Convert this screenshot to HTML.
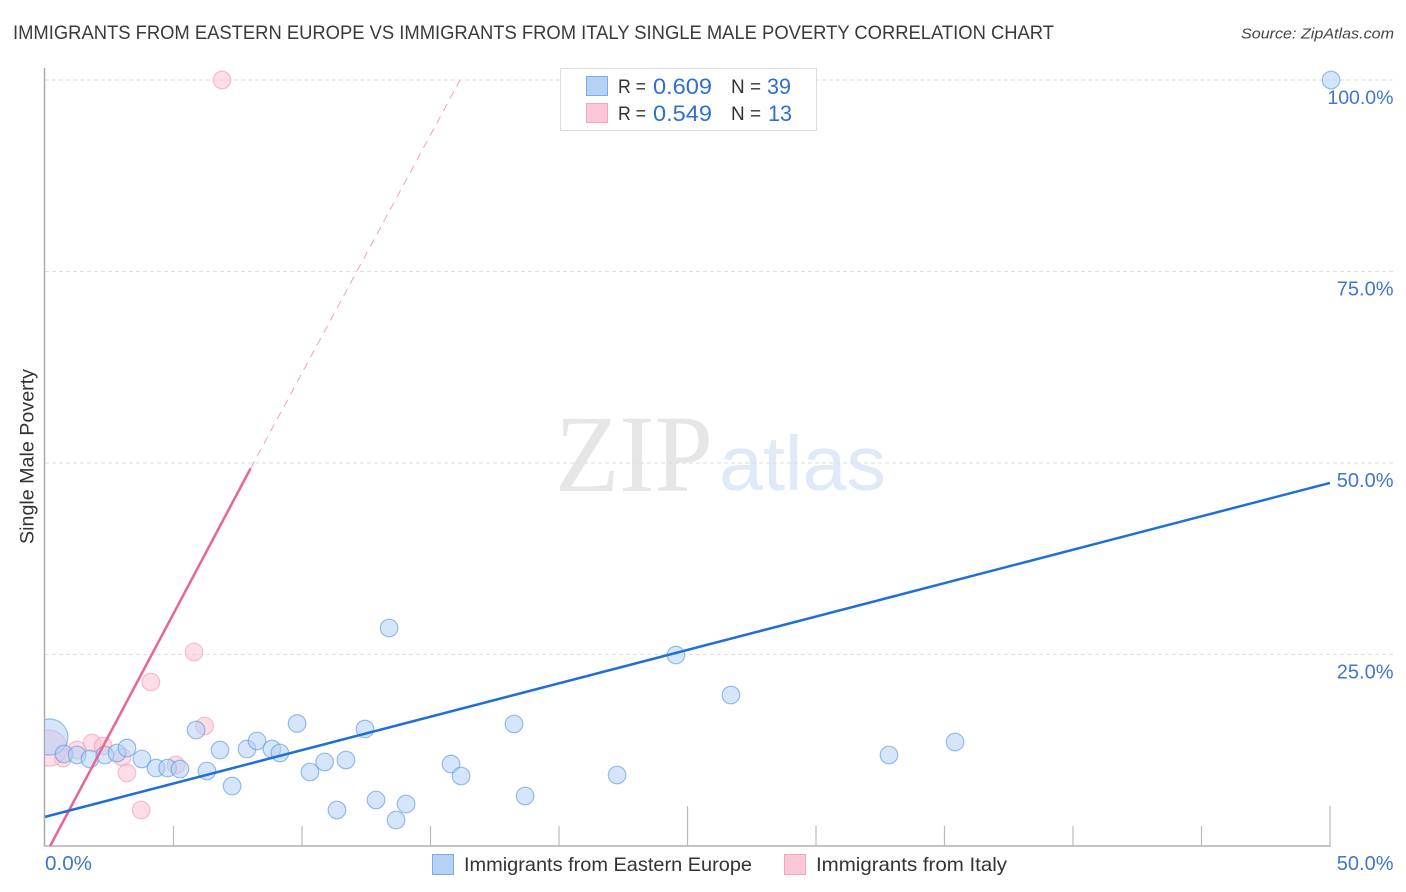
<!DOCTYPE html>
<html lang="en">
<head>
<meta charset="utf-8">
<title>Immigrants from Eastern Europe vs Immigrants from Italy Single Male Poverty Correlation Chart</title>
<style>
html,body{margin:0;padding:0;background:#fff;width:1406px;height:892px;overflow:hidden}
svg{display:block;font-family:"Liberation Sans",sans-serif}
</style>
</head>
<body>
<svg id="chart" width="1406" height="892" viewBox="0 0 1406 892" xmlns="http://www.w3.org/2000/svg">
<defs><clipPath id="plot-clip"><rect x="45" y="60" width="1361" height="786"/></clipPath></defs>
<text x="13" y="39" font-size="19.5" fill="#3a3a3a" textLength="1041" lengthAdjust="spacingAndGlyphs">IMMIGRANTS FROM EASTERN EUROPE VS IMMIGRANTS FROM ITALY SINGLE MALE POVERTY CORRELATION CHART</text>
<text x="1241" y="38.500" font-size="15" font-style="italic" fill="#444" textLength="153" lengthAdjust="spacingAndGlyphs">Source: ZipAtlas.com</text>
<g>
<text x="555" y="491" font-family="'Liberation Serif',serif" font-size="110" fill="#e6e6e6" textLength="158" lengthAdjust="spacingAndGlyphs">ZIP</text>
<text x="719" y="490" font-size="77" fill="#dfe9f7" textLength="167" lengthAdjust="spacingAndGlyphs">atlas</text>
</g>
<g id="grid"></g>
<g id="axes"></g>
<g id="points" clip-path="url(#plot-clip)"></g>
<g id="trends"></g>
<text transform="translate(33.500,456.500) rotate(-90)" text-anchor="middle" font-size="19" fill="#333" textLength="175" lengthAdjust="spacingAndGlyphs">Single Male Poverty</text>
<g id="ticklabels"></g>
<g>
<rect x="560.500" y="68.500" width="256" height="62" fill="#fff" stroke="#dcdcdc" stroke-width="1"/>
<rect x="586.500" y="76.500" width="21" height="19" fill="#b5d2f6" stroke="#7fa9e0"/>
<rect x="586.500" y="103.500" width="21" height="19" fill="#fcc7d7" stroke="#f4a6bf"/>
<text x="618" y="93" font-size="19.500" fill="#333" textLength="28" lengthAdjust="spacingAndGlyphs">R =</text>
<text x="653" y="94" font-size="22" fill="#2f6fd0" textLength="59" lengthAdjust="spacingAndGlyphs">0.609</text>
<text x="731" y="93" font-size="19.500" fill="#333" textLength="30" lengthAdjust="spacingAndGlyphs">N =</text>
<text x="767" y="94" font-size="22" fill="#2f6fd0" textLength="24" lengthAdjust="spacingAndGlyphs">39</text>
<text x="618" y="120" font-size="19.500" fill="#333" textLength="28" lengthAdjust="spacingAndGlyphs">R =</text>
<text x="653" y="121" font-size="22" fill="#2f6fd0" textLength="59" lengthAdjust="spacingAndGlyphs">0.549</text>
<text x="731" y="120" font-size="19.500" fill="#333" textLength="30" lengthAdjust="spacingAndGlyphs">N =</text>
<text x="768" y="121" font-size="22" fill="#2f6fd0" textLength="24" lengthAdjust="spacingAndGlyphs">13</text>
</g>
<g>
<rect x="432.500" y="854.500" width="21" height="20" fill="#b5d2f6" stroke="#7fa9e0"/>
<text x="464" y="871" font-size="19.500" fill="#333" textLength="288" lengthAdjust="spacingAndGlyphs">Immigrants from Eastern Europe</text>
<rect x="784.500" y="854.500" width="21" height="20" fill="#fcc7d7" stroke="#f4a6bf"/>
<text x="816" y="871" font-size="19.500" fill="#333" textLength="191" lengthAdjust="spacingAndGlyphs">Immigrants from Italy</text>
</g>
</svg>
<script>
const blueX = [50.04,0.19,0.74,1.25,1.75,2.33,2.80,3.19,3.77,4.32,4.77,5.25,5.88,6.30,6.81,7.28,7.86,8.25,8.83,9.14,9.81,10.31,10.88,11.36,11.71,12.45,12.88,13.39,13.66,14.05,15.80,16.19,18.25,18.68,22.26,24.55,26.69,32.84,35.41];
const blueY = [100,14.23,12.01,11.88,11.36,11.88,12.14,12.79,11.36,10.18,10.18,10.05,15.14,9.79,12.53,7.83,12.66,13.71,12.66,12.14,15.99,9.66,10.97,4.70,11.23,15.27,6.01,28.46,3.39,5.48,10.70,9.14,15.93,6.53,9.27,24.93,19.71,11.88,13.58];
const blueWeight = [1,4.2,1,1,1,1,1,1,1,1,1,1,1,1,1,1,1,1,1,1,1,1,1,1,1,1,1,1,1,1,1,1,1,1,1,1,1,1,1];
const pinkX = [6.89,5.80,4.12,6.21,1.83,1.25,2.26,0.70,3.00,5.10,3.19,3.74,0.16];
const pinkY = [100,25.33,21.41,15.67,13.45,12.53,13.05,11.49,11.62,10.57,9.53,4.70,12.79];
const pinkWeight = [1,1,1,1,1,1,1,1,1,1,1,1,4.2];
const blueTrendX = [0,50];
const blueTrendY = [3.8,47.4];
const pinkTrendX = [0.2,8.0];
const pinkTrendY = [0,49.3];
const pinkExtensionX = [8.0,16.15];
const pinkExtensionY = [49.3,100];
const yTickValues = [25,50,75,100];
const yTickLabels = ["25.0%","50.0%","75.0%","100.0%"];
const xTickValues = [0,5,10,15,20,25,30,35,40,45,50];
const xMajorTicks = [0,25,50];
const xTickLabels = ["0.0%","50.0%"];

const NS = 'http://www.w3.org/2000/svg';
const xScale = v => 45 + v * 25.7;
const yScale = v => 846 - v * 7.66;
function make(parent, tag, attrs) {
  const el = document.createElementNS(NS, tag);
  for (const k in attrs) el.setAttribute(k, attrs[k]);
  document.getElementById(parent).appendChild(el);
  return el;
}

yTickValues.forEach(function (v) {
  const line = make('grid', 'line', {x1: 45, x2: 1393, y1: yScale(v), y2: yScale(v), stroke: '#dedede', 'stroke-width': 1, 'stroke-dasharray': '4 3'});
  
  
});

const yAxisLine = make('axes', 'line', {x1: 44.5, x2: 44.5, y1: 68, y2: 846.5, stroke: '#aaa', 'stroke-width': 1.5});


const xAxisLine = make('axes', 'line', {x1: 44, x2: xScale(50) + 1, y1: 846, y2: 846, stroke: '#b0b0b0', 'stroke-width': 1.5});


xTickValues.forEach(function (v) {
  if (v === 0) return;
  const top = xMajorTicks.includes(v) ? 806 : 826;
  const tick = make('axes', 'line', {x1: xScale(v), x2: xScale(v), y1: top, y2: 846, stroke: '#bbb', 'stroke-width': 1.2});
  
  
});

function drawSeries(xs, ys, weights, fill, stroke, name) {
  xs.forEach(function (x, i) {
    const c = make('points', 'circle', {cx: xScale(x), cy: yScale(ys[i]), r: 8.8 * Math.sqrt(weights[i]), fill: fill, 'fill-opacity': 0.55, stroke: stroke, 'stroke-opacity': 0.6, 'stroke-width': 1.2});
    
    
  });
}
drawSeries(pinkX, pinkY, pinkWeight, '#fbc3d4', '#f097b2', 'point-italy');
drawSeries(blueX, blueY, blueWeight, '#b2cff5', '#5a95dd', 'point-eastern-europe');

const pinkExt = make('trends', 'line', {x1: xScale(pinkExtensionX[0]), y1: yScale(pinkExtensionY[0]), x2: xScale(pinkExtensionX[1]), y2: yScale(pinkExtensionY[1]), stroke: '#f0a3bb', 'stroke-width': 1, 'stroke-dasharray': '8 6'});


const pinkTrend = make('trends', 'line', {x1: xScale(pinkTrendX[0]), y1: yScale(pinkTrendY[0]), x2: xScale(pinkTrendX[1]), y2: yScale(pinkTrendY[1]), stroke: '#e8668f', 'stroke-width': 2.5});


const blueTrend = make('trends', 'line', {x1: xScale(blueTrendX[0]), y1: yScale(blueTrendY[0]), x2: xScale(blueTrendX[1]), y2: yScale(blueTrendY[1]), stroke: '#1f6fd9', 'stroke-width': 2.5});



yTickValues.forEach(function (v, i) {
  const t = make('ticklabels', 'text', {x: 1393.5, y: yScale(v) + 24, 'text-anchor': 'end', 'font-size': v === 100 ? 19.5 : 20, fill: '#3f76d2'});
  t.textContent = yTickLabels[i];
  
  
});
const x0Label = make('ticklabels', 'text', {x: 45, y: 870, 'font-size': 20, fill: '#3f76d2', textLength: 47, lengthAdjust: 'spacingAndGlyphs'});
x0Label.textContent = xTickLabels[0];


const x50Label = make('ticklabels', 'text', {x: 1393.5, y: 870, 'text-anchor': 'end', 'font-size': 20, fill: '#3f76d2'});
x50Label.textContent = xTickLabels[1];


</script>
</body>
</html>
